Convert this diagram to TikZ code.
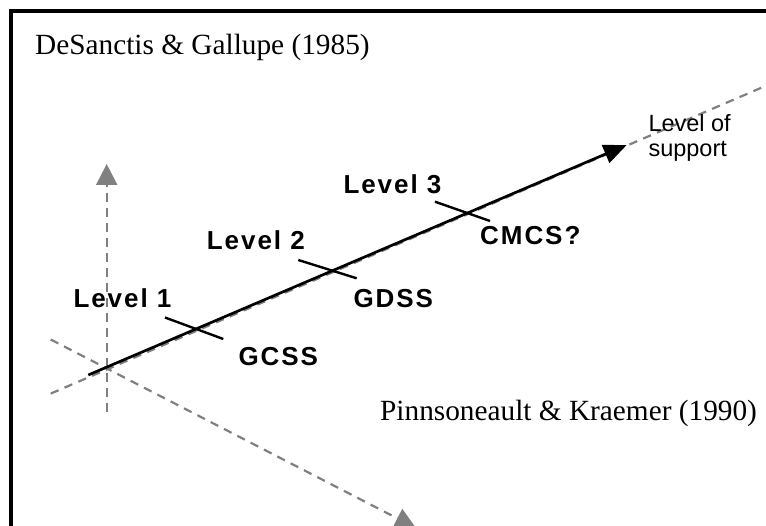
\documentclass[tikz,border=0pt]{standalone}
\usepackage{fontspec}
\setmainfont{Liberation Serif}
\newfontfamily\tagfont[LetterSpace=7.5]{Liberation Sans Bold}
\newfontfamily\plainsans{Liberation Sans}
\usetikzlibrary{arrows.meta}

\definecolor{axisgray}{RGB}{128,128,128}

\begin{document}
\begin{tikzpicture}[x=1pt,y=-1pt,
  frameline/.style={line width=3.2pt, line join=miter},
  axisline/.style={draw=axisgray, line width=2.2pt, dash pattern=on 8.5pt off 6.5pt},
  grayhead/.style={-{Triangle[length=21pt,width=21pt,fill=axisgray]}},
  supportline/.style={line width=2.7pt, -{Triangle[length=23pt,width=19pt]}},
  tickline/.style={line width=2.4pt},
  authortext/.style={inner sep=0pt, anchor=base west, font=\fontsize{29.3}{34}\selectfont},
  leveltext/.style={inner sep=0pt, anchor=base west, font=\tagfont\fontsize{26}{30}\selectfont},
  axistext/.style={inner sep=0pt, anchor=base west, font=\plainsans\fontsize{23.5}{28}\selectfont}]

\useasboundingbox (0,0) rectangle (766,526);

% outer frame (only the left and top edges fall inside the page)
\coordinate (fbl) at (11,560);
\coordinate (ftl) at (11,11);
\coordinate (ftr) at (800,11);
\draw[frameline] (fbl) -- (ftl) -- (ftr);

% dashed grey axes through the origin
\coordinate (vbot) at (106.7,412);
\coordinate (vtop) at (106.7,164);
\coordinate (aup) at (50.7,339.5);
\coordinate (atip) at (416,528);
\coordinate (blow) at (50.7,393.6);
\coordinate (bhigh) at (764,86.6);

\draw[axisline, grayhead] (vbot) -- (vtop);
\draw[axisline, grayhead] (aup) -- (atip);
\draw[axisline] (blow) -- (bhigh);

% level-of-support arrow
\coordinate (sstart) at (88.3,375);
\coordinate (send) at (626.7,145);
\draw[supportline] (sstart) -- (send);

% level ticks
\coordinate (t1a) at (165,317.5);
\coordinate (t1b) at (223.3,339);
\coordinate (t2a) at (298.3,260);
\coordinate (t2b) at (356.7,278.3);
\coordinate (t3a) at (435,201.7);
\coordinate (t3b) at (490,221);
\draw[tickline] (t1a) -- (t1b);
\draw[tickline] (t2a) -- (t2b);
\draw[tickline] (t3a) -- (t3b);

% texts
\node[authortext] (desanctis) at (35,55) {DeSanctis \& Gallupe (1985)};
\node[authortext] (pinsonneault) at (380,420.5) {Pinnsoneault \& Kraemer (1990)};

\node[leveltext] (lev1) at (73.3,308) {Level 1};
\node[leveltext] (lev2) at (206.7,249.3) {Level 2};
\node[leveltext] (lev3) at (343.3,193.3) {Level 3};
\node[leveltext] (gcss) at (238.3,366) {GCSS};
\node[leveltext] (gdss) at (353.3,308) {GDSS};
\node[leveltext] (cmcs) at (480,245) {CMCS?};

\node[axistext] (levelof) at (648.3,131.7) {Level of};
\node[axistext] (support) at (648.3,156.5) {support};
\end{tikzpicture}
\end{document}
